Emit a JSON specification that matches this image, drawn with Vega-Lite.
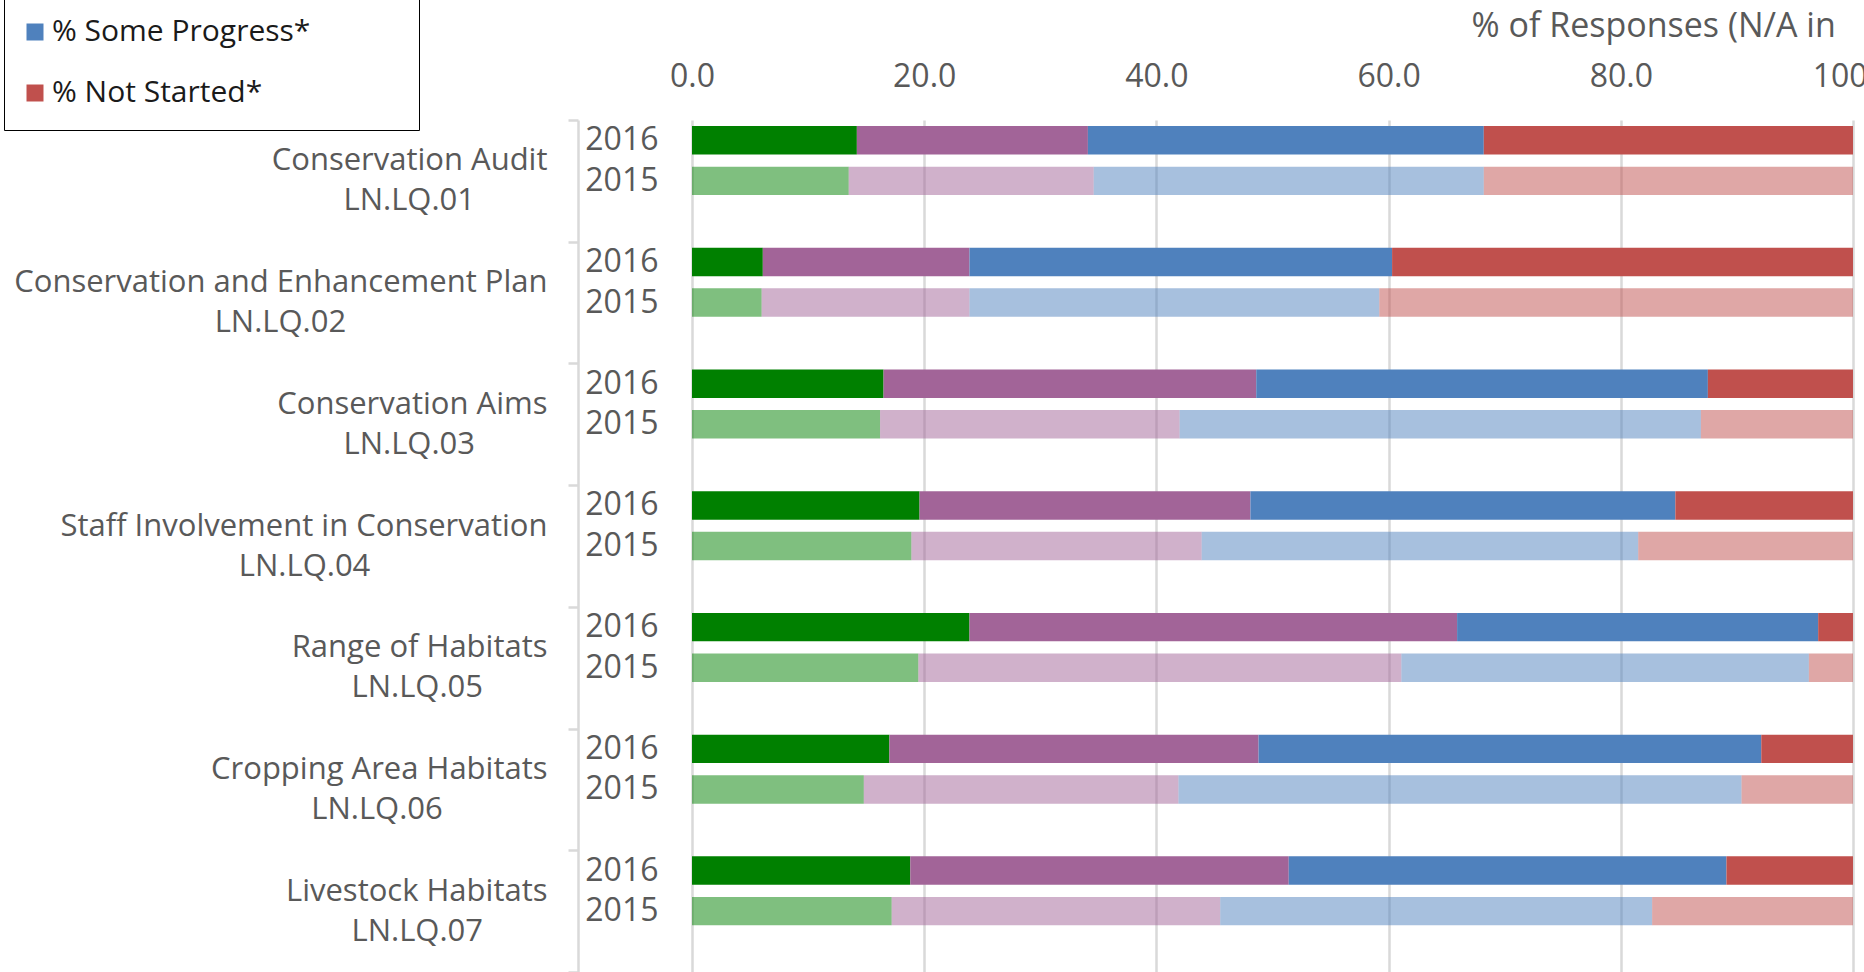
{
  "$schema": "https://vega.github.io/schema/vega-lite/v6.json",
  "width": 1161,
  "height": 852,
  "autosize": {"type": "none"},
  "padding": {"left": 692, "top": 120, "right": 11, "bottom": 0},
  "background": "white",
  "config": {"font": "Open Sans", "view": {"stroke": null}},
  "data": {"values": [
    {"group": "Conservation Audit|LN.LQ.01", "slot": "01 2016", "year": "2016", "status": "% Complete*", "value": 14.2},
    {"group": "Conservation Audit|LN.LQ.01", "slot": "01 2016", "year": "2016", "status": "% Significant Progress*", "value": 19.9},
    {"group": "Conservation Audit|LN.LQ.01", "slot": "01 2016", "year": "2016", "status": "% Some Progress*", "value": 34.1},
    {"group": "Conservation Audit|LN.LQ.01", "slot": "01 2016", "year": "2016", "status": "% Not Started*", "value": 31.8},
    {"group": "Conservation Audit|LN.LQ.01", "slot": "01 2015", "year": "2015", "status": "% Complete*", "value": 13.5},
    {"group": "Conservation Audit|LN.LQ.01", "slot": "01 2015", "year": "2015", "status": "% Significant Progress*", "value": 21.1},
    {"group": "Conservation Audit|LN.LQ.01", "slot": "01 2015", "year": "2015", "status": "% Some Progress*", "value": 33.6},
    {"group": "Conservation Audit|LN.LQ.01", "slot": "01 2015", "year": "2015", "status": "% Not Started*", "value": 31.8},
    {"group": "Conservation and Enhancement Plan|LN.LQ.02", "slot": "02 2016", "year": "2016", "status": "% Complete*", "value": 6.1},
    {"group": "Conservation and Enhancement Plan|LN.LQ.02", "slot": "02 2016", "year": "2016", "status": "% Significant Progress*", "value": 17.8},
    {"group": "Conservation and Enhancement Plan|LN.LQ.02", "slot": "02 2016", "year": "2016", "status": "% Some Progress*", "value": 36.4},
    {"group": "Conservation and Enhancement Plan|LN.LQ.02", "slot": "02 2016", "year": "2016", "status": "% Not Started*", "value": 39.7},
    {"group": "Conservation and Enhancement Plan|LN.LQ.02", "slot": "02 2015", "year": "2015", "status": "% Complete*", "value": 6.0},
    {"group": "Conservation and Enhancement Plan|LN.LQ.02", "slot": "02 2015", "year": "2015", "status": "% Significant Progress*", "value": 17.9},
    {"group": "Conservation and Enhancement Plan|LN.LQ.02", "slot": "02 2015", "year": "2015", "status": "% Some Progress*", "value": 35.3},
    {"group": "Conservation and Enhancement Plan|LN.LQ.02", "slot": "02 2015", "year": "2015", "status": "% Not Started*", "value": 40.8},
    {"group": "Conservation Aims|LN.LQ.03", "slot": "03 2016", "year": "2016", "status": "% Complete*", "value": 16.5},
    {"group": "Conservation Aims|LN.LQ.03", "slot": "03 2016", "year": "2016", "status": "% Significant Progress*", "value": 32.1},
    {"group": "Conservation Aims|LN.LQ.03", "slot": "03 2016", "year": "2016", "status": "% Some Progress*", "value": 38.9},
    {"group": "Conservation Aims|LN.LQ.03", "slot": "03 2016", "year": "2016", "status": "% Not Started*", "value": 12.5},
    {"group": "Conservation Aims|LN.LQ.03", "slot": "03 2015", "year": "2015", "status": "% Complete*", "value": 16.2},
    {"group": "Conservation Aims|LN.LQ.03", "slot": "03 2015", "year": "2015", "status": "% Significant Progress*", "value": 25.8},
    {"group": "Conservation Aims|LN.LQ.03", "slot": "03 2015", "year": "2015", "status": "% Some Progress*", "value": 44.9},
    {"group": "Conservation Aims|LN.LQ.03", "slot": "03 2015", "year": "2015", "status": "% Not Started*", "value": 13.1},
    {"group": "Staff Involvement in Conservation|LN.LQ.04", "slot": "04 2016", "year": "2016", "status": "% Complete*", "value": 19.6},
    {"group": "Staff Involvement in Conservation|LN.LQ.04", "slot": "04 2016", "year": "2016", "status": "% Significant Progress*", "value": 28.5},
    {"group": "Staff Involvement in Conservation|LN.LQ.04", "slot": "04 2016", "year": "2016", "status": "% Some Progress*", "value": 36.6},
    {"group": "Staff Involvement in Conservation|LN.LQ.04", "slot": "04 2016", "year": "2016", "status": "% Not Started*", "value": 15.3},
    {"group": "Staff Involvement in Conservation|LN.LQ.04", "slot": "04 2015", "year": "2015", "status": "% Complete*", "value": 18.9},
    {"group": "Staff Involvement in Conservation|LN.LQ.04", "slot": "04 2015", "year": "2015", "status": "% Significant Progress*", "value": 25.0},
    {"group": "Staff Involvement in Conservation|LN.LQ.04", "slot": "04 2015", "year": "2015", "status": "% Some Progress*", "value": 37.6},
    {"group": "Staff Involvement in Conservation|LN.LQ.04", "slot": "04 2015", "year": "2015", "status": "% Not Started*", "value": 18.5},
    {"group": "Range of Habitats|LN.LQ.05", "slot": "05 2016", "year": "2016", "status": "% Complete*", "value": 23.9},
    {"group": "Range of Habitats|LN.LQ.05", "slot": "05 2016", "year": "2016", "status": "% Significant Progress*", "value": 42.0},
    {"group": "Range of Habitats|LN.LQ.05", "slot": "05 2016", "year": "2016", "status": "% Some Progress*", "value": 31.1},
    {"group": "Range of Habitats|LN.LQ.05", "slot": "05 2016", "year": "2016", "status": "% Not Started*", "value": 3.0},
    {"group": "Range of Habitats|LN.LQ.05", "slot": "05 2015", "year": "2015", "status": "% Complete*", "value": 19.5},
    {"group": "Range of Habitats|LN.LQ.05", "slot": "05 2015", "year": "2015", "status": "% Significant Progress*", "value": 41.6},
    {"group": "Range of Habitats|LN.LQ.05", "slot": "05 2015", "year": "2015", "status": "% Some Progress*", "value": 35.1},
    {"group": "Range of Habitats|LN.LQ.05", "slot": "05 2015", "year": "2015", "status": "% Not Started*", "value": 3.8},
    {"group": "Cropping Area Habitats|LN.LQ.06", "slot": "06 2016", "year": "2016", "status": "% Complete*", "value": 17.0},
    {"group": "Cropping Area Habitats|LN.LQ.06", "slot": "06 2016", "year": "2016", "status": "% Significant Progress*", "value": 31.8},
    {"group": "Cropping Area Habitats|LN.LQ.06", "slot": "06 2016", "year": "2016", "status": "% Some Progress*", "value": 43.3},
    {"group": "Cropping Area Habitats|LN.LQ.06", "slot": "06 2016", "year": "2016", "status": "% Not Started*", "value": 7.9},
    {"group": "Cropping Area Habitats|LN.LQ.06", "slot": "06 2015", "year": "2015", "status": "% Complete*", "value": 14.8},
    {"group": "Cropping Area Habitats|LN.LQ.06", "slot": "06 2015", "year": "2015", "status": "% Significant Progress*", "value": 27.1},
    {"group": "Cropping Area Habitats|LN.LQ.06", "slot": "06 2015", "year": "2015", "status": "% Some Progress*", "value": 48.5},
    {"group": "Cropping Area Habitats|LN.LQ.06", "slot": "06 2015", "year": "2015", "status": "% Not Started*", "value": 9.6},
    {"group": "Livestock Habitats|LN.LQ.07", "slot": "07 2016", "year": "2016", "status": "% Complete*", "value": 18.8},
    {"group": "Livestock Habitats|LN.LQ.07", "slot": "07 2016", "year": "2016", "status": "% Significant Progress*", "value": 32.6},
    {"group": "Livestock Habitats|LN.LQ.07", "slot": "07 2016", "year": "2016", "status": "% Some Progress*", "value": 37.7},
    {"group": "Livestock Habitats|LN.LQ.07", "slot": "07 2016", "year": "2016", "status": "% Not Started*", "value": 10.9},
    {"group": "Livestock Habitats|LN.LQ.07", "slot": "07 2015", "year": "2015", "status": "% Complete*", "value": 17.2},
    {"group": "Livestock Habitats|LN.LQ.07", "slot": "07 2015", "year": "2015", "status": "% Significant Progress*", "value": 28.3},
    {"group": "Livestock Habitats|LN.LQ.07", "slot": "07 2015", "year": "2015", "status": "% Some Progress*", "value": 37.2},
    {"group": "Livestock Habitats|LN.LQ.07", "slot": "07 2015", "year": "2015", "status": "% Not Started*", "value": 17.3}
  ]},
  "layer": [
    {
      "transform": [
        {"calculate": "indexof(['% Complete*', '% Significant Progress*', '% Some Progress*', '% Not Started*'], datum.status)", "as": "stackOrder"}
      ],
      "mark": {"type": "bar"},
      "encoding": {
        "y": {
          "field": "slot", "type": "nominal",
          "scale": {"domain": ["01 2016","01 2015","01 -","02 2016","02 2015","02 -","03 2016","03 2015","03 -","04 2016","04 2015","04 -","05 2016","05 2015","05 -","06 2016","06 2015","06 -","07 2016","07 2015","07 -"], "paddingInner": 0.3, "paddingOuter": 0.15},
          "axis": {
            "orient": "left", "title": null, "domain": false, "ticks": false, "grid": false,
            "values": ["01 2016","01 2015","02 2016","02 2015","03 2016","03 2015","04 2016","04 2015","05 2016","05 2015","06 2016","06 2015","07 2016","07 2015"],
            "labelExpr": "substring(datum.label, 3)",
            "labelPadding": 34, "labelFontSize": 32, "labelColor": "#595959"
          }
        },
        "x": {
          "field": "value", "type": "quantitative", "stack": "zero",
          "scale": {"domain": [0, 100], "nice": false},
          "axis": {
            "orient": "top", "values": [0, 20, 40, 60, 80, 100], "format": ".1f",
            "labelFontSize": 32, "labelColor": "#595959", "labelFlush": false, "labelOverlap": false,
            "domain": false, "ticks": false, "tickSize": 0, "labelPadding": 27,
            "grid": true, "gridColor": "#d9d9d9", "gridWidth": 2.5,
            "title": "% of Responses (N/A in", "titleFontSize": 34, "titleFontWeight": "normal", "titleColor": "#595959",
            "titleAlign": "left", "titleAnchor": "start", "titleBaseline": "alphabetic", "titleX": 779, "titleY": -84
          }
        },
        "order": {"field": "stackOrder", "type": "quantitative"},
        "color": {
          "field": "status", "type": "nominal",
          "sort": ["% Complete*", "% Significant Progress*", "% Some Progress*", "% Not Started*"],
          "scale": {"domain": ["% Complete*", "% Significant Progress*", "% Some Progress*", "% Not Started*"], "range": ["#008000", "#A26498", "#4F81BD", "#C0504D"]},
          "legend": {
            "orient": "none", "legendX": -688, "legendY": -125, "title": null,
            "values": ["% Some Progress*", "% Not Started*"],
            "symbolType": "square", "symbolSize": 289, "symbolStrokeWidth": 0, "symbolOpacity": 1, "symbolOffset": -6,
            "labelFontSize": 30, "labelColor": "#1a1a1a", "labelOffset": 2, "labelLimit": 800,
            "labelExpr": "datum.label + '\u00a0\u00a0\u00a0\u00a0\u00a0\u00a0\u00a0\u00a0\u00a0\u00a0\u00a0\u200b'",
            "strokeColor": "#000000", "fillColor": "white", "padding": 22, "rowPadding": 31
          }
        },
        "opacity": {
          "field": "year", "type": "nominal",
          "scale": {"domain": ["2016", "2015"], "range": [1, 0.5]},
          "legend": null
        }
      }
    },
    {
      "mark": {"type": "point", "opacity": 0},
      "encoding": {
        "y": {
          "field": "group", "type": "nominal",
          "scale": {"type": "band", "domain": ["Conservation Audit|LN.LQ.01", "Conservation and Enhancement Plan|LN.LQ.02", "Conservation Aims|LN.LQ.03", "Staff Involvement in Conservation|LN.LQ.04", "Range of Habitats|LN.LQ.05", "Cropping Area Habitats|LN.LQ.06", "Livestock Habitats|LN.LQ.07"], "paddingInner": 0, "paddingOuter": 0},
          "axis": {
            "orient": "left", "title": null, "offset": 114, "grid": false,
            "domainColor": "#d9d9d9", "domainWidth": 2.5,
            "tickColor": "#d9d9d9", "tickWidth": 2.5, "tickSize": 10, "tickBand": "extent",
            "labelExpr": "indexof(datum.label, '|') < 0 ? '' : [split(datum.label, '|')[0], pad(split(datum.label, '|')[1], 8 + [9, 25, 9, 22, 8, 13, 8][toNumber(slice(datum.label, -2)) - 1], '\u00a0') + '\u200b']",
            "labelLineHeight": 40, "labelOffset": -20,
            "labelPadding": 21, "labelFontSize": 31, "labelColor": "#595959", "labelLimit": 800
          }
        }
      }
    }
  ],
  "resolve": {"scale": {"y": "independent"}, "axis": {"y": "independent"}}
}
